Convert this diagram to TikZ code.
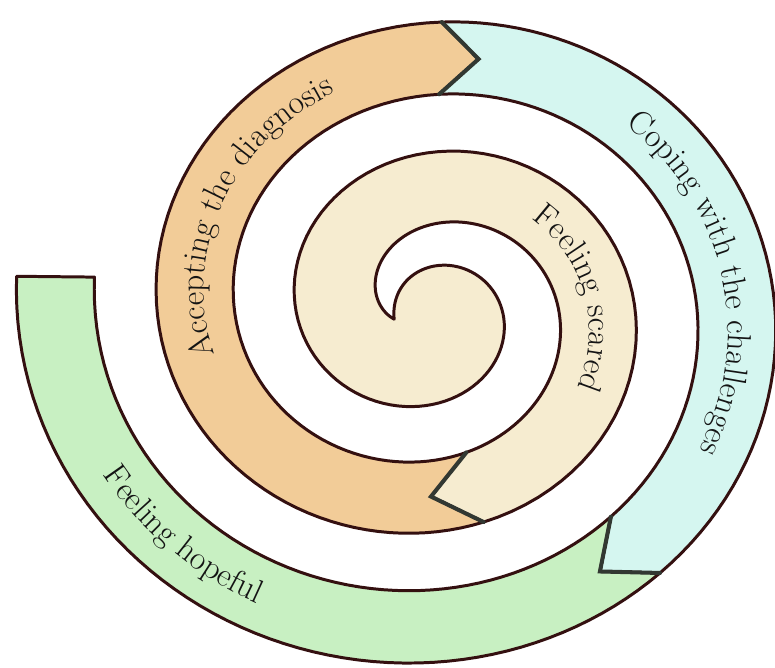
\documentclass[tikz,border=0pt]{standalone}
\usepackage{tikz}
\usetikzlibrary{decorations.text}
\definecolor{scaredfill}{RGB}{246,236,208}
\definecolor{acceptfill}{RGB}{242,204,152}
\definecolor{copingfill}{RGB}{213,246,240}
\definecolor{hopefill}{RGB}{200,240,194}
\definecolor{spiraledge}{RGB}{52,16,16}
\definecolor{notchedge}{RGB}{50,56,50}
\newcommand{\bandfont}{\fontsize{19}{22}\selectfont}

\begin{document}
\begin{tikzpicture}[x=0.02cm,y=0.02cm,
  declare function={rA(\t)=-6+0.388889*(\t)+43*exp(-min(\t,700)/100);
    rB(\t)=rA(\t)+62*(1-exp(-min((\t)+15,700)/80));
    ax(\t)=-rA(\t)*cos(\t); ay(\t)=0.93*rA(\t)*sin(\t);
    bx(\t)=-rB(\t)*cos(\t); by(\t)=0.93*rB(\t)*sin(\t);
    rM(\t)=0.5*(rA(\t)+rB((\t)-360));},
  band/.style={draw=spiraledge,line width=1.7pt,line join=round},
  notch/.style={draw=notchedge,line width=2.3pt,line join=miter,line cap=round},
  bandtext/.style={decorate,decoration={text along path,text align=center,text color=black!92,text={|\bandfont|#1}}}]
\useasboundingbox (-431,-358) rectangle (344,310);

\coordinate (n1o) at ({ax(617)},{ay(617)});
\coordinate (n1i) at ({bx(257)},{by(257)});
\coordinate (n1t) at ({-rM(630)*cos(630)},{0.93*rM(630)*sin(630)});
\coordinate (n2o) at ({ax(812)},{ay(812)});
\coordinate (n2i) at ({bx(452)},{by(452)});
\coordinate (n2t) at ({-rM(820)*cos(820)},{0.93*rM(820)*sin(820)});
\coordinate (n3o) at ({ax(951)},{ay(951)});
\coordinate (n3i) at ({bx(591)},{by(591)});
\coordinate (n3t) at ({-rM(959)*cos(959)},{0.93*rM(959)*sin(959)});

\path[band,fill=scaredfill] plot[domain=-15:617,samples=170,variable=\t] ({ax(\t)},{ay(\t)}) -- (n1t) -- plot[domain=257:-15,samples=120,variable=\t] ({bx(\t)},{by(\t)}) -- cycle;
\path[band,fill=acceptfill] plot[domain=617:812,samples=70,variable=\t] ({ax(\t)},{ay(\t)}) -- (n2t) -- plot[domain=452:257,samples=70,variable=\t] ({bx(\t)},{by(\t)}) -- (n1t) -- cycle;
\path[band,fill=copingfill] plot[domain=812:951,samples=60,variable=\t] ({ax(\t)},{ay(\t)}) -- (n3t) -- plot[domain=591:452,samples=60,variable=\t] ({bx(\t)},{by(\t)}) -- (n2t) -- cycle;
\path[band,fill=hopefill] plot[domain=951:1085,samples=60,variable=\t] ({ax(\t)},{ay(\t)}) -- plot[domain=726:591,samples=60,variable=\t] ({bx(\t)},{by(\t)}) -- (n3t) -- cycle;

\draw[notch] (n1o) -- (n1t) -- (n1i);
\draw[notch] (n2o) -- (n2t) -- (n2i);
\draw[notch] (n3o) -- (n3t) -- (n3i);

\path[bandtext={Feeling scared}] plot[domain=459:599,samples=80,variable=\t] ({-(rM(\t)-9)*cos(\t)},{0.93*(rM(\t)-9)*sin(\t)});
\path[bandtext={Accepting the diagnosis}] plot[domain=663:823,samples=90,variable=\t] ({-(rM(\t)-9)*cos(\t)},{0.93*(rM(\t)-9)*sin(\t)});
\path[bandtext={Coping with the challenges}] plot[domain=820:960,samples=90,variable=\t] ({-(rM(\t)-9)*cos(\t)},{0.93*(rM(\t)-9)*sin(\t)});
\path[bandtext={Feeling hopeful}] plot[domain=1090:980,samples=80,variable=\t] ({-(rM(\t)+9)*cos(\t)},{0.93*(rM(\t)+9)*sin(\t)});
\end{tikzpicture}
\end{document}
